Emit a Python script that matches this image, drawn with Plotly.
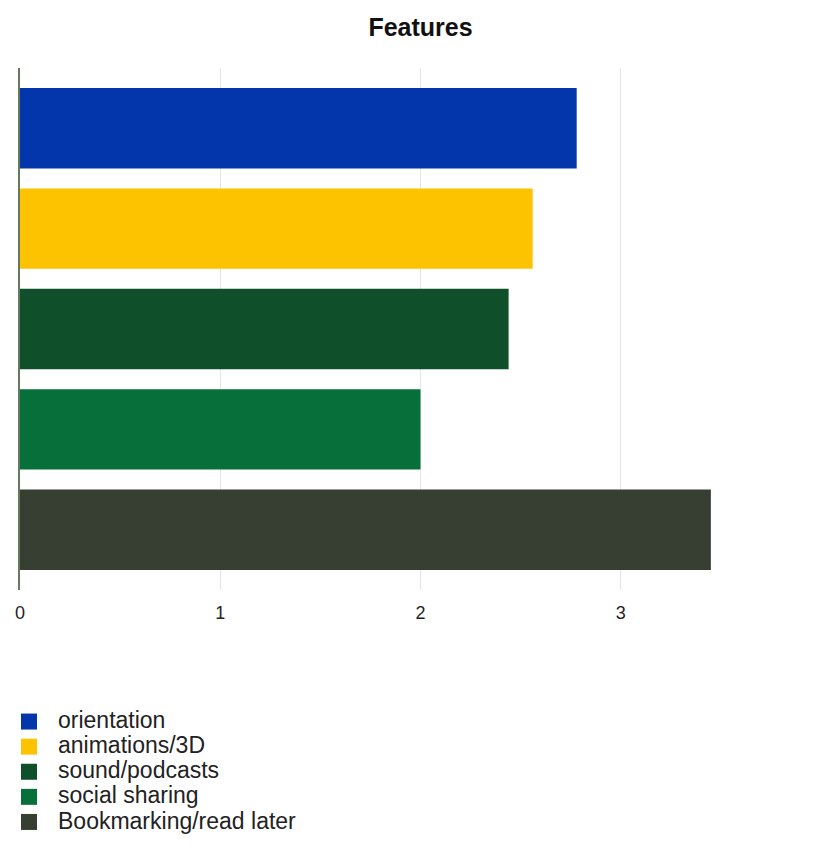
import plotly.graph_objects as go

categories = ["orientation", "animations/3D", "sound/podcasts", "social sharing", "Bookmarking/read later"]
values = [2.78, 2.56, 2.44, 2.0, 3.45]
colors = ["#0236aa", "#fec300", "#0f4f29", "#07703a", "#373f33"]
x_ticks = [0, 1, 2, 3, 4]

fig = go.Figure()
for name, val, col in zip(categories, values, colors):
    fig.add_trace(go.Bar(
        x=[val], y=[name], name=name, orientation="h", showlegend=False,
        marker=dict(color=col, line=dict(width=0)), width=0.8,
    ))
# legend entries (larger square swatches)
for name, col in zip(categories, colors):
    fig.add_trace(go.Scatter(
        x=[None], y=[None], mode="markers", showlegend=True,
        name=f'<span style="font-size:23px">{name}</span>',
        marker=dict(symbol="square", size=16, color=col),
    ))

fig.update_layout(
    width=821, height=853,
    margin=dict(l=20, r=0, t=68, b=263, autoexpand=False),
    paper_bgcolor="white", plot_bgcolor="white",
    font=dict(family="Liberation Sans, Arial, sans-serif", color="#222222"),
    title=dict(text="<b>Features</b>", x=0.5, xref="paper", xanchor="center",
               y=1 - 27 / 853, yref="container", yanchor="middle",
               font=dict(size=25, color="#111111")),
    barmode="overlay",
    showlegend=True,
    legend=dict(
        xref="container", yref="container", x=0.0, y=1 - 704 / 853,
        xanchor="left", yanchor="top", traceorder="normal",
        font=dict(size=17, color="#222222"), itemwidth=48,
        bgcolor="rgba(0,0,0,0)",
    ),
    xaxis=dict(
        range=[0, 4], tickvals=x_ticks, ticktext=[str(t) for t in x_ticks],
        showgrid=True, gridcolor="#e6e6e6", gridwidth=1,
        zeroline=False, showline=False, ticks="",
        tickfont=dict(size=18, color="#222222"), ticklabelstandoff=10,
        fixedrange=True,
    ),
    yaxis=dict(
        categoryorder="array", categoryarray=categories[::-1],
        range=[-0.6, 4.6], showticklabels=False, showgrid=False,
        zeroline=False, showline=True, linecolor="#647a5c", linewidth=2,
        ticks="",
    ),
)

fig.write_html("out.html")
